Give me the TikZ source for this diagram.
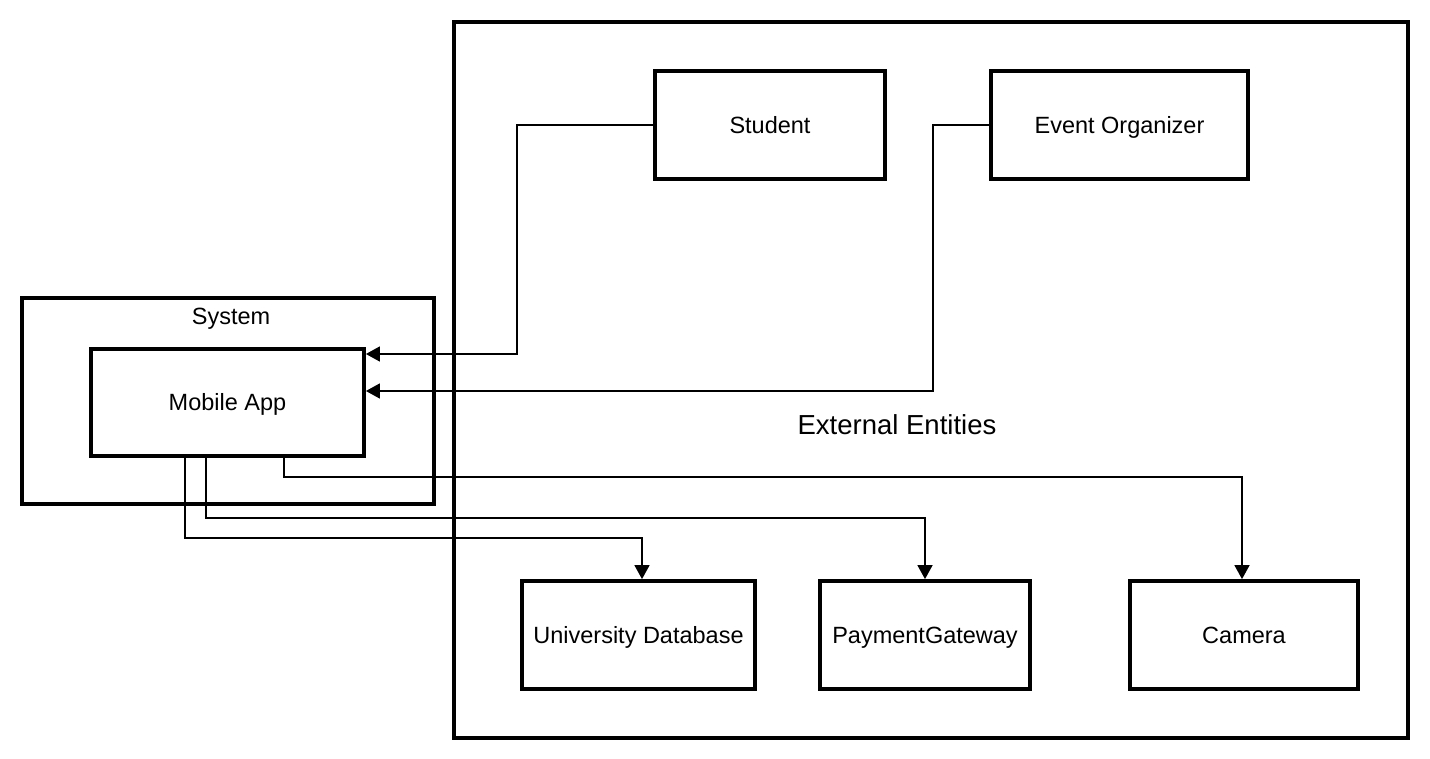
\documentclass[tikz,border=0pt]{standalone}
\usepackage{fontspec}
\setmainfont{Liberation Sans}
\usetikzlibrary{arrows.meta}
\begin{document}
\begin{tikzpicture}[x=1pt,y=-1pt,
  box/.style={draw,line width=3.8pt,rectangle,inner sep=0pt,text height=16.8pt,text depth=0pt,font=\fontsize{23.5}{28}\selectfont},
  lbl/.style={inner sep=0pt,text height=16.8pt,text depth=0pt,font=\fontsize{23.5}{28}\selectfont},
  conn/.style={line width=1.6pt,-{Triangle[length=14pt,width=15pt]}}]
\useasboundingbox (0,0) rectangle (1430,759);
\fill[white] (0,0) rectangle (1430,759);
% frames
\node[box,minimum width=954pt,minimum height=716pt] (ext) at (931,380) {};
\node[lbl,text height=19.7pt,font=\fontsize{27.5}{32}\selectfont] (extlbl) at (897,425) {External Entities};
\node[box,minimum width=412pt,minimum height=206pt] (sys) at (228,401) {};
\node[lbl] (syslbl) at (231,316) {System};
% entities
\node[box,minimum width=273pt,minimum height=107pt] (app) at (227.5,402.5) {Mobile App};
\node[box,minimum width=230pt,minimum height=108pt] (student) at (770,125) {Student};
\node[box,minimum width=257pt,minimum height=108pt] (eo) at (1119.5,125) {Event Organizer};
\node[box,minimum width=233pt,minimum height=108pt] (udb) at (638.5,635) {University Database};
\node[box,minimum width=210pt,minimum height=108pt] (pg) at (925,635) {PaymentGateway};
\node[box,minimum width=228pt,minimum height=108pt] (cam) at (1244,635) {Camera};
% connectors
\draw[conn] (student.west) -- (517,125) |- (app.east |- 0,354);
\draw[conn] (eo.west) -- (933,125) |- (app.east |- 0,391);
\draw[conn] (app.south -| 284,0) -- (284,477) -| (cam.north -| 1242,0);
\draw[conn] (app.south -| 206,0) -- (206,518) -| (pg.north);
\draw[conn] (app.south -| 185,0) -- (185,538) -| (udb.north -| 642,0);
\end{tikzpicture}
\end{document}
